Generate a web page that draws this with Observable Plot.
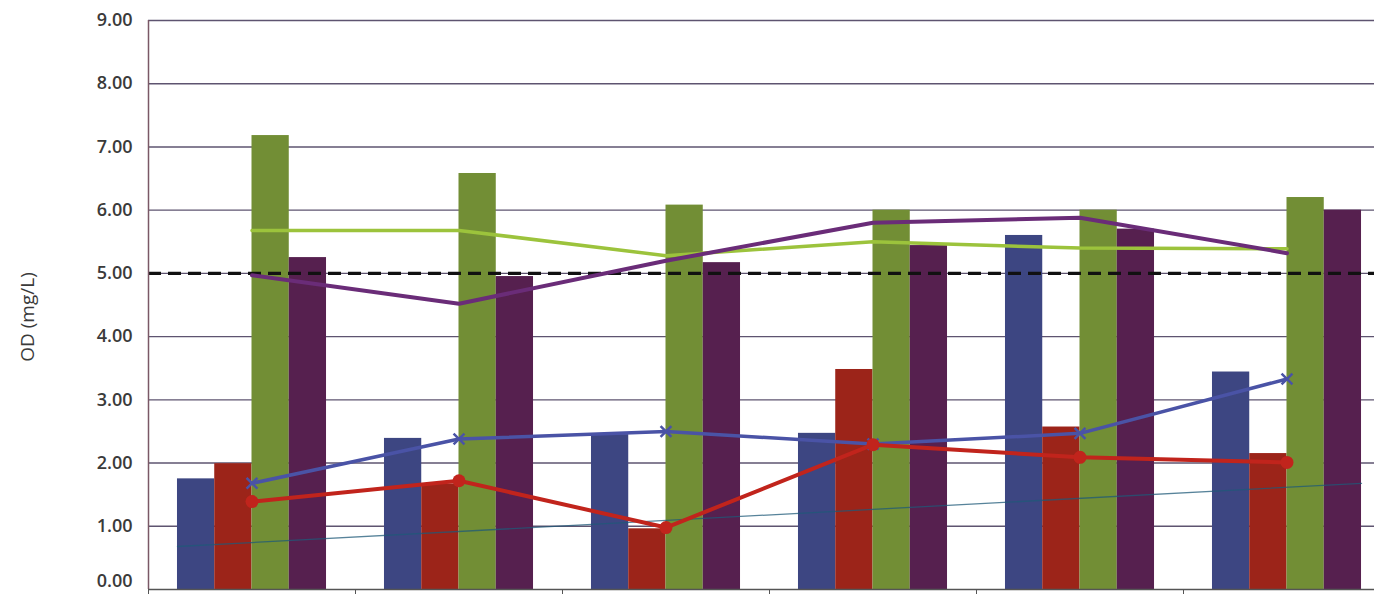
<!DOCTYPE html>
<html>
<head>
<meta charset="utf-8">
<script src="https://cdn.jsdelivr.net/npm/d3@7"></script>
<script src="https://cdn.jsdelivr.net/npm/@observablehq/plot@0.6"></script>
<style>
  html, body { margin: 0; padding: 0; background: #fff; overflow: hidden; }
  #chart svg { display: block; overflow: hidden; }
</style>
</head>
<body>
<div id="chart"></div>
<script>
// Categories (x labels are cut off in the reference)
const categories = ["1", "2", "3", "4", "5", "6"];
const seriesNames = ["Series 1", "Series 2", "Series 3", "Series 4"];

// Bar series values
const barBlue   = [1.75, 2.39, 2.45, 2.47, 5.60, 3.44];
const barRed    = [1.99, 1.67, 0.96, 3.48, 2.57, 2.15];
const barGreen  = [7.18, 6.58, 6.08, 6.00, 6.00, 6.20];
const barPurple = [5.25, 4.95, 5.17, 5.44, 5.70, 6.00];

// Line series values
const lineBlue   = [1.68, 2.38, 2.50, 2.30, 2.47, 3.33];
const lineRed    = [1.39, 1.72, 0.98, 2.29, 2.09, 2.01];
const lineGreen  = [5.68, 5.68, 5.28, 5.50, 5.40, 5.39];
const linePurple = [4.97, 4.52, 5.20, 5.80, 5.88, 5.32];

// Thin trend line: value at start of first group and end of last group
const trendValues = [0.68, 1.68];

// Reference (threshold) level
const threshold = [5.0];

// Y tick labels
const yTicks = [0, 1, 2, 3, 4, 5, 6, 7, 8, 9];

const barColors  = ["#3d4682", "#9c2419", "#728e35", "#56204f"];
const barSeries = [barBlue, barRed, barGreen, barPurple];

const barW = 0.18;       // bar width in group units
const half = barW * 2;   // half of a group's bar cluster

const bars = [];
categories.forEach((c, i) => {
  barSeries.forEach((vals, k) => {
    bars.push({cat: c, series: seriesNames[k], x1: i - half + k * barW, x2: i - half + (k + 1) * barW, y: vals[i], color: barColors[k]});
  });
});

const mkLine = (vals) => vals.map((v, i) => ({x: i, y: v}));
const trend = [
  {x: 0 - half, y: trendValues[0]},
  {x: categories.length - 1 + half, y: trendValues[1]}
];
const edges = d3.range(categories.length + 1).map(i => i - 0.5);
const fmt = d => d.toFixed(2);
const labelStyle = {fontSize: 18, fontWeight: 600, fill: "#3a3a3a"};

const chart = Plot.plot({
  width: 1374,
  height: 594,
  marginTop: 20,
  marginBottom: 5,
  marginLeft: 148,
  marginRight: 0,
  style: {fontFamily: "'Open Sans', sans-serif", background: "#fff"},
  x: {domain: [-0.5, 5.5], range: [148, 1390]},
  y: {domain: [0, 9]},
  marks: [
    Plot.ruleY(yTicks.filter(d => d > 0), {x1: -0.5, x2: 5.5, stroke: "#5e5470", strokeWidth: 1.4}),
    Plot.rectY(bars, {x1: "x1", x2: "x2", y1: 0, y2: "y", fill: "color"}),
    Plot.line(trend, {x: "x", y: "y", stroke: "#1f5a78", strokeWidth: 1.3, strokeOpacity: 0.75}),
    Plot.ruleY(threshold, {x1: -0.5, x2: 5.5, stroke: "#111", strokeWidth: 3.2, strokeDasharray: "13,7"}),
    Plot.line(mkLine(lineGreen), {x: "x", y: "y", stroke: "#9cc33c", strokeWidth: 3.5}),
    Plot.line(mkLine(linePurple), {x: "x", y: "y", stroke: "#6a2c78", strokeWidth: 4}),
    Plot.line(mkLine(lineBlue), {x: "x", y: "y", stroke: "#4a53a6", strokeWidth: 3.5}),
    Plot.dot(mkLine(lineBlue), {x: "x", y: "y", symbol: "times", r: 5, stroke: "#4a53a6", strokeWidth: 2.5}),
    Plot.line(mkLine(lineRed), {x: "x", y: "y", stroke: "#c1241c", strokeWidth: 4}),
    Plot.dot(mkLine(lineRed), {x: "x", y: "y", r: 6.5, fill: "#c1241c"}),
    Plot.ruleX([-0.5], {y1: 0, y2: 9, stroke: "#7a5866", strokeWidth: 1.5}),
    Plot.ruleY([0], {x1: -0.5, x2: 5.5, stroke: "#555", strokeWidth: 1.5}),
    Plot.axisX({ticks: edges, tickFormat: () => "", tickSize: 6, stroke: "#555"}),
    Plot.axisY({ticks: yTicks.filter(d => d > 0), tickFormat: fmt, tickSize: 0, tickPadding: 16,
      label: null, ...labelStyle}),
    // bottom tick label kept fully inside the picture
    Plot.text(yTicks.filter(d => d === 0), {x: -0.5, y: d => d, text: fmt, dx: -16, textAnchor: "end",
      lineAnchor: "bottom", dy: -3, ...labelStyle}),
    Plot.text(["OD (mg/L)"], {frameAnchor: "left", dx: -121, dy: 12, rotate: -90,
      fontSize: 19, fill: "#3a3a3a", textAnchor: "middle"})
  ]
});

document.getElementById("chart").appendChild(chart);
</script>
</body>
</html>
